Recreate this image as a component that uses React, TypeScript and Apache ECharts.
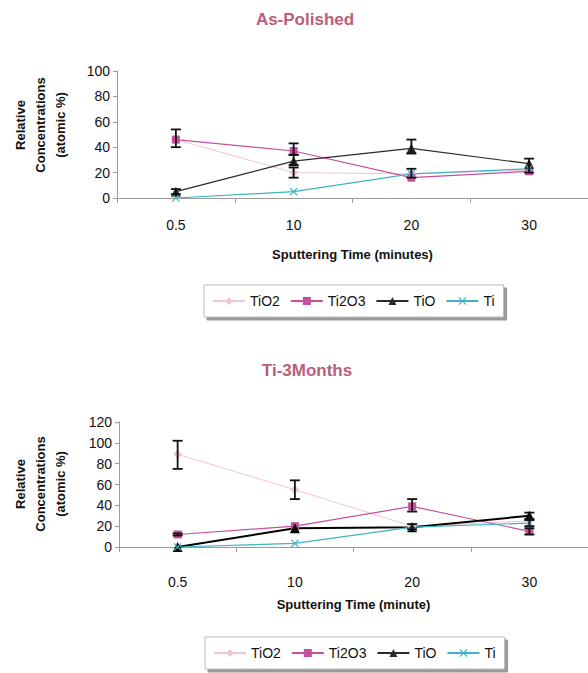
import React, { useEffect, useRef } from "react";
import * as echarts from "echarts";

const categories = ["0.5", "10", "20", "30"];
const seriesNames = ["TiO2", "Ti2O3", "TiO", "Ti"];

// As-Polished
const polTiO2 = [46, 20, 19, 22];
const polTi2O3 = [46, 37, 16, 21];
const polTiO = [5, 29, 39, 27];
const polTi = [0, 5, 19, 23];
const polErr = [
  [0, 40, 54], [0, 3, 7], [1, 34, 43], [1, 26, 34], [1, 16, 24],
  [2, 35, 46], [2, 16, 23], [3, 20, 31],
];
const polTicks = [0, 20, 40, 60, 80, 100];

// Ti-3Months
const m3TiO2 = [89, 55, 20, 25];
const m3Ti2O3 = [12, 20, 39, 15];
const m3TiO = [0, 18, 19, 30];
const m3Ti = [0, 3.5, 19, 23];
const m3Err = [
  [0, 75, 102], [0, 11, 13], [1, 46, 64], [2, 34, 46], [2, 17, 22],
  [3, 27, 33], [3, 20, 26], [3, 12, 18],
];
const m3Ticks = [0, 20, 40, 60, 80, 100, 120];

const FONT = "'Liberation Sans', Arial, sans-serif";
const C_TIO2 = "#f3c4d2";
const C_TI2O3 = "#c64f9f";
const C_TIO = "#2a2a2a";
const C_TI = "#3fb3c2";
const X_SYMBOL =
  "path://M0,1L1,0L5,4L9,0L10,1L6,5L10,9L9,10L5,6L1,10L0,9L4,5Z";

function lineSeries(name: string, data: number[], idx: number, color: string, symbol: string, size: number, width: number) {
  return {
    type: "line",
    name,
    data,
    xAxisIndex: idx,
    yAxisIndex: idx,
    symbol,
    symbolSize: size,
    lineStyle: { color, width },
    itemStyle: { color },
    z: 2,
  };
}

function errSeries(data: number[][], idx: number) {
  return {
    type: "custom",
    xAxisIndex: idx,
    yAxisIndex: idx,
    data,
    z: 4,
    silent: true,
    renderItem: (params: any, api: any) => {
      const x = api.value(0);
      const lo = api.coord([x, api.value(1)]);
      const hi = api.coord([x, api.value(2)]);
      const w = 5;
      const style = { stroke: "#111", lineWidth: 1.8 };
      return {
        type: "group",
        children: [
          { type: "line", shape: { x1: lo[0], y1: lo[1], x2: hi[0], y2: hi[1] }, style },
          { type: "line", shape: { x1: hi[0] - w, y1: hi[1], x2: hi[0] + w, y2: hi[1] }, style },
          { type: "line", shape: { x1: lo[0] - w, y1: lo[1], x2: lo[0] + w, y2: lo[1] }, style },
        ],
      };
    },
  };
}

function xAxis(idx: number, name: string, margin: number, nameGap: number) {
  return {
    type: "category",
    gridIndex: idx,
    data: categories,
    boundaryGap: true,
    axisLine: { lineStyle: { color: "#9a9a9a", width: 1 } },
    axisTick: { show: true, length: 5, lineStyle: { color: "#9a9a9a" } },
    axisLabel: { color: "#111", fontSize: 14, fontFamily: FONT, margin },
    name,
    nameLocation: "middle",
    nameGap,
    nameTextStyle: { color: "#111", fontSize: 13, fontWeight: "bold", fontFamily: FONT },
  };
}

function yAxis(idx: number, ticks: number[]) {
  return {
    type: "value",
    gridIndex: idx,
    min: ticks[0],
    max: ticks[ticks.length - 1],
    interval: ticks[1] - ticks[0],
    axisLine: { show: true, lineStyle: { color: "#9a9a9a", width: 1 } },
    axisTick: { show: true, length: 4, lineStyle: { color: "#9a9a9a" } },
    splitLine: { show: false },
    axisLabel: { color: "#111", fontSize: 14, fontFamily: FONT, margin: 7 },
  };
}

function legend(top: number, left: number) {
  return {
    data: seriesNames,
    left,
    top,
    orient: "horizontal",
    itemWidth: 32,
    itemHeight: 10,
    itemGap: 10,
    padding: [9, 9, 9, 8],
    backgroundColor: "#fff",
    borderColor: "#bbb",
    borderWidth: 1,
    shadowColor: "#999",
    shadowOffsetX: 3,
    shadowOffsetY: 3,
    shadowBlur: 0,
    textStyle: { color: "#111", fontSize: 14, fontFamily: FONT },
  };
}

function yName(x: number, y: number) {
  return {
    type: "text",
    x,
    y,
    rotation: Math.PI / 2,
    style: {
      text: "Relative\nConcentrations\n(atomic %)",
      fill: "#111",
      font: "bold 13px " + FONT,
      align: "center",
      verticalAlign: "middle",
      lineHeight: 20,
    },
  };
}

export default function App() {
  const ref = useRef<HTMLDivElement>(null);
  useEffect(() => {
    if (!ref.current) return;
    const chart = echarts.init(ref.current, null, { renderer: "svg" });
    chart.setOption({
      animation: false,
      backgroundColor: "#fff",
      title: [
        {
          text: "As-Polished",
          left: 300,
          top: 6,
          textAlign: "center",
          textStyle: { color: "#b8607c", fontSize: 17, fontWeight: "bold", fontFamily: FONT },
        },
        {
          text: "Ti-3Months",
          left: 302,
          top: 357,
          textAlign: "center",
          textStyle: { color: "#b8607c", fontSize: 17, fontWeight: "bold", fontFamily: FONT },
        },
      ],
      grid: [
        { left: 117, top: 71, width: 480, height: 127 },
        { left: 119, top: 422, width: 480, height: 125 },
      ],
      xAxis: [
        xAxis(0, "Sputtering Time (minutes)", 20, 50),
        xAxis(1, "Sputtering Time (minute)", 28, 51),
      ],
      yAxis: [yAxis(0, polTicks), yAxis(1, m3Ticks)],
      legend: [legend(285, 204), legend(637, 205)],
      graphic: [yName(40, 125), yName(40, 484)],
      series: [
        lineSeries("TiO2", polTiO2, 0, C_TIO2, "diamond", 9, 1),
        lineSeries("Ti2O3", polTi2O3, 0, C_TI2O3, "rect", 8, 1.2),
        lineSeries("TiO", polTiO, 0, C_TIO, "triangle", 10, 1.2),
        lineSeries("Ti", polTi, 0, C_TI, X_SYMBOL, 8, 1.2),
        errSeries(polErr, 0),
        lineSeries("TiO2", m3TiO2, 1, C_TIO2, "diamond", 9, 1),
        lineSeries("Ti2O3", m3Ti2O3, 1, C_TI2O3, "rect", 8, 1.2),
        lineSeries("TiO", m3TiO, 1, "#000", "triangle", 10, 2),
        lineSeries("Ti", m3Ti, 1, C_TI, X_SYMBOL, 8, 1.2),
        errSeries(m3Err, 1),
      ],
    });
    return () => chart.dispose();
  }, []);
  return (
    <div
      ref={ref}
      style={{ position: "absolute", left: 0, top: 0, width: 588, height: 673 }}
    />
  );
}
